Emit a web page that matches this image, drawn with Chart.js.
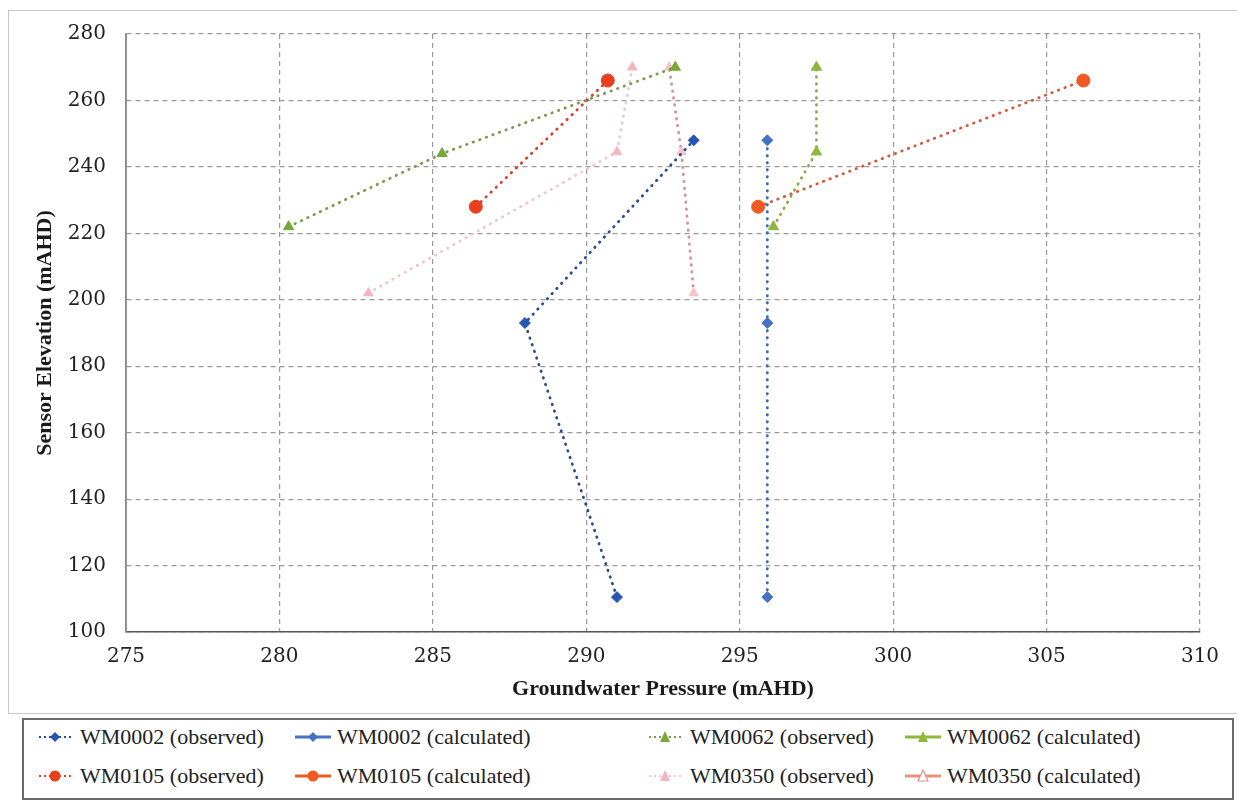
<!DOCTYPE html>
<html>
<head>
<meta charset="utf-8">
<script src="https://cdn.jsdelivr.net/npm/chart.js@4/dist/chart.umd.min.js"></script>
<style>
	body { margin: 0; background: #fff; }
	#wrap { position: relative; width: 1238px; height: 800px; overflow: hidden; }
	#frame { position: absolute; left: 8px; top: 10px; width: 1228px; height: 702px; border: 1px solid #c8c8c8; border-right: none; }
	#chart { position: absolute; left: 0; top: 0; }
	#legend { position: absolute; left: 22px; top: 718px; width: 1208px; height: 78px; border: 2px solid #6a6a6a; }
	.item { position: absolute; height: 30px; font-family: "Liberation Serif", serif; font-size: 22px; color: #222; white-space: nowrap; }
	.item svg { position: absolute; left: 0; top: 8px; }
	.item span { position: absolute; top: 2px; }
</style>
</head>
<body>
<div id="wrap">
	<div id="frame"></div>
	<canvas id="chart" width="1238" height="712"></canvas>
	<div id="legend"></div>
</div>
<script>
// groundwater pressure (x) vs sensor elevation (y), mAHD
var wm0002ObsX = [291.0, 288.0, 293.5];
var wm0002ObsY = [110.5, 193, 248];
var wm0002CalcX = [295.9, 295.9, 295.9];
var wm0002CalcY = [110.5, 193, 248];
var wm0062ObsX = [280.3, 285.3, 292.9];
var wm0062ObsY = [222, 244, 270];
var wm0062CalcX = [296.1, 297.5, 297.5];
var wm0062CalcY = [222, 244.5, 270];
var wm0105ObsX = [286.4, 290.7];
var wm0105ObsY = [228, 266];
var wm0105CalcX = [295.6, 306.2];
var wm0105CalcY = [228, 266];
var wm0350ObsX = [282.9, 291.0, 291.5];
var wm0350ObsY = [202, 244.5, 270];
var wm0350CalcX = [293.5, 293.1, 292.7];
var wm0350CalcY = [202, 244.5, 270];

var seriesNames = [
	"WM0002 (observed)", "WM0002 (calculated)", "WM0062 (observed)", "WM0062 (calculated)",
	"WM0105 (observed)", "WM0105 (calculated)", "WM0350 (observed)", "WM0350 (calculated)"
];
var xTicks = [275, 280, 285, 290, 295, 300, 305, 310];
var yTicks = [100, 120, 140, 160, 180, 200, 220, 240, 260, 280];

function pts(xs, ys) {
	var out = [];
	for (var i = 0; i < xs.length; i++) out.push({ x: xs[i], y: ys[i] });
	return out;
}

function series(name, xs, ys, line, fill, shape, radius) {
	return {
		label: name,
		data: pts(xs, ys),
		showLine: true,
		borderColor: line,
		borderWidth: 2.8,
		borderDash: [0.5, 6.5],
		borderCapStyle: "round",
		pointStyle: shape,
		pointRadius: radius,
		pointBackgroundColor: fill,
		pointBorderColor: fill,
		pointBorderWidth: 1,
		isCalc: name.indexOf("calculated") > -1
	};
}

var datasets = [
	series(seriesNames[0], wm0002ObsX, wm0002ObsY, "#2a4a94", "#2556b0", "rectRot", 5.5),
	series(seriesNames[1], wm0002CalcX, wm0002CalcY, "#3a66c0", "#4472c4", "rectRot", 5.5),
	series(seriesNames[2], wm0062ObsX, wm0062ObsY, "#7f9a52", "#79a83a", "triangle", 6),
	series(seriesNames[3], wm0062CalcX, wm0062CalcY, "#87ab45", "#8db83e", "triangle", 6),
	series(seriesNames[4], wm0105ObsX, wm0105ObsY, "#d4402a", "#e8401e", "circle", 6.5),
	series(seriesNames[5], wm0105CalcX, wm0105CalcY, "#d9583a", "#f05a22", "circle", 6.5),
	series(seriesNames[6], wm0350ObsX, wm0350ObsY, "#f2c6cc", "#f6b4c0", "triangle", 5.5),
	series(seriesNames[7], wm0350CalcX, wm0350CalcY, "#d98e98", "#f7c4ca", "triangle", 5.5)
];

var tickFont = { family: "DejaVu Serif", size: 20 };
var titleFont = { family: "Liberation Serif", size: 22, weight: "bold" };

// solid grey line on the left edge of the plot, the grid itself is dashed
var leftAxisLine = {
	id: "leftAxisLine",
	beforeDatasetsDraw: function (c) {
		var a = c.chartArea, ctx = c.ctx;
		ctx.save();
		ctx.strokeStyle = "#8a8a8a";
		ctx.lineWidth = 1.5;
		ctx.beginPath();
		ctx.moveTo(a.left, a.top);
		ctx.lineTo(a.left, a.bottom);
		ctx.stroke();
		ctx.restore();
	}
};

var chart = new Chart(document.getElementById("chart").getContext("2d"), {
	type: "scatter",
	data: { datasets: datasets },
	options: {
		responsive: false,
		animation: false,
		devicePixelRatio: 1,
		layout: { padding: { left: 8, top: 34, right: 38, bottom: 0 } },
		plugins: { legend: { display: false }, tooltip: { enabled: false } },
		scales: {
			x: {
				type: "linear",
				min: 275,
				max: 310,
				afterBuildTicks: function (axis) {
					axis.ticks = xTicks.map(function (v) { return { value: v }; });
				},
				afterFit: function (axis) { axis.height = 80; },
				grid: { color: "#9a9a9a", lineWidth: 1.2, drawTicks: false },
				border: { display: true, color: "#555", width: 1.5, dash: [5, 4] },
				ticks: { font: tickFont, color: "#222", padding: 13 },
				title: {
					display: true,
					text: "Groundwater Pressure (mAHD)",
					font: titleFont,
					color: "#1a1a1a",
					padding: { top: 4, bottom: 9 }
				}
			},
			y: {
				type: "linear",
				min: 100,
				max: 280,
				afterBuildTicks: function (axis) {
					axis.ticks = yTicks.map(function (v) { return { value: v }; });
				},
				afterFit: function (axis) { axis.width = 118; },
				grid: { color: "#9a9a9a", lineWidth: 1.2, drawTicks: false },
				border: { display: true, color: "#8a8a8a", width: 1.5, dash: [5, 4] },
				ticks: { font: tickFont, color: "#222", padding: 20 },
				title: {
					display: true,
					text: "Sensor Elevation (mAHD)",
					font: titleFont,
					color: "#1a1a1a",
					padding: { top: 24, bottom: 0 }
				}
			}
		}
	},
	plugins: [leftAxisLine]
});

// legend in the style of the original (observed dotted, calculated solid)
var colLeft = [13, 271, 623, 881];
var rowTop = [2, 41];

function markerSvg(ds) {
	var f = ds.pointBackgroundColor;
	if (ds.pointStyle === "rectRot") return '<polygon points="18,2 23,7 18,12 13,7" fill="' + f + '"/>';
	if (ds.pointStyle === "circle") return '<circle cx="18" cy="7" r="5.5" fill="' + f + '"/>';
	if (ds.isCalc && ds.label.indexOf("WM0350") > -1) return '<polygon points="18,1 23,12 13,12" fill="#fff" stroke="#e8908a" stroke-width="1.2"/>';
	return '<polygon points="18,1 23,12 13,12" fill="' + f + '"/>';
}

function buildLegend() {
	var html = "";
	chart.data.datasets.forEach(function (ds, i) {
		var col = i % 4, row = Math.floor(i / 4);
		var lineCol = ds.isCalc ? ds.pointBackgroundColor : ds.borderColor;
		if (ds.label === "WM0350 (calculated)") lineCol = "#ea9080";
		var line = ds.isCalc
			? '<line x1="0" y1="7" x2="36" y2="7" stroke="' + lineCol + '" stroke-width="3"/>'
			: '<line x1="2" y1="7" x2="36" y2="7" stroke="' + lineCol + '" stroke-width="2" stroke-dasharray="2,3"/>';
		html += '<div class="item" style="left:' + colLeft[col] + 'px;top:' + rowTop[row] + 'px;width:320px">' +
			'<svg width="38" height="14">' + line + markerSvg(ds) + '</svg>' +
			'<span style="left:' + (ds.isCalc ? 42 : 43) + 'px">' + ds.label + '</span></div>';
	});
	document.getElementById("legend").innerHTML = html;
}
buildLegend();
</script>
</body>
</html>
